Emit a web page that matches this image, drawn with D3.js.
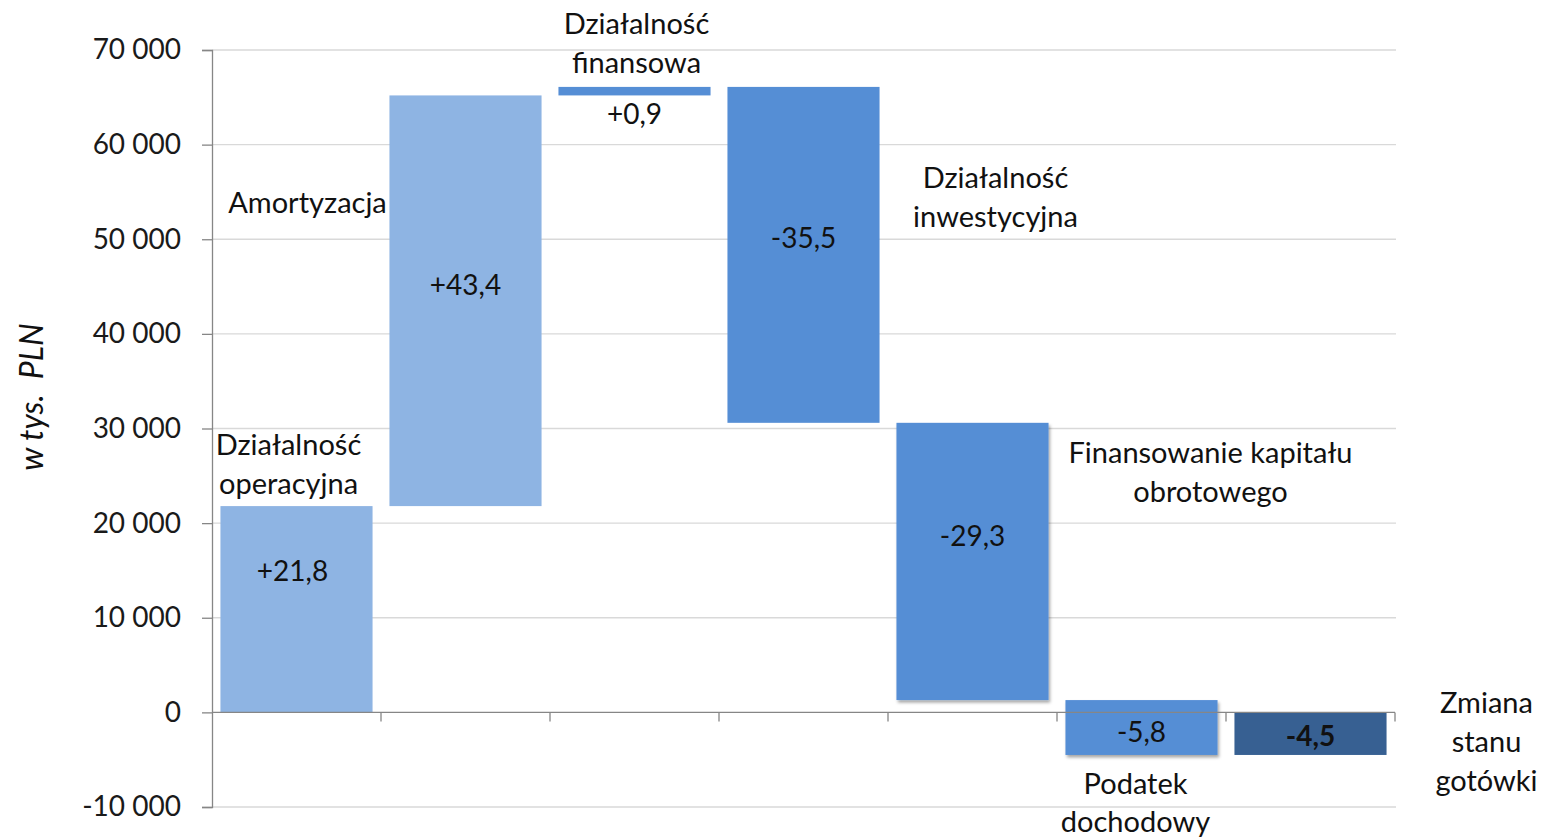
<!DOCTYPE html>
<html><head><meta charset="utf-8">
<script src="https://cdn.jsdelivr.net/npm/d3@7"></script>
<style>
html,body{margin:0;padding:0;background:#fff;}
svg{display:block;font-family:Lato, "Noto Sans", sans-serif;}
</style></head>
<body>
<svg id="chart" width="1544" height="839"></svg>
<script>
// ---- data ----
const categories = ["operacyjna","amortyzacja","finansowa","inwestycyjna","kapital","podatek","zmiana"];
const categoryLabels = [
  ["Działalność","operacyjna"],
  ["Amortyzacja"],
  ["Działalność","finansowa"],
  ["Działalność","inwestycyjna"],
  ["Finansowanie kapitału","obrotowego"],
  ["Podatek","dochodowy"],
  ["Zmiana","stanu","gotówki"]
];
const deltas = [21800, 43400, 900, -35500, -29300, -5800, null]; // null = total bar
const valueLabels = ["+21,8","+43,4","+0,9","-35,5","-29,3","-5,8","-4,5"];
const yTicks = [-10000, 0, 10000, 20000, 30000, 40000, 50000, 60000, 70000];
const yTitle = "w tys.\u00a0 PLN";

// ---- build waterfall segments ----
let running = 0;
const bars = categories.map((c, i) => {
  if (deltas[i] === null) {
    return {cat: c, i, start: 0, end: running, total: true};
  }
  const s = running; running += deltas[i];
  return {cat: c, i, start: s, end: running, total: false, delta: deltas[i]};
});

// colour per bar (style)
const barColors = ["#8EB4E3", "#8EB4E3", "#558ED5", "#558ED5", "#558ED5", "#558ED5", "#376092"];

// ---- layout ----
const pL = 212, pR = 1395, pT = 50, pB = 807;
const svg = d3.select("#chart");
const x = d3.scaleBand().domain(categories).range([pL, pR]).paddingInner(0.1).paddingOuter(0.05);
const y = d3.scaleLinear().domain([-10000, 70000]).range([pB, pT]);
const loc = d3.formatLocale({decimal: ",", thousands: "\u00a0", grouping: [3], currency: ["", ""], minus: "-"});
const fmt = loc.format(",d");

const defs = svg.append("defs");
const f = defs.append("filter").attr("id", "shadow").attr("x", "-10%").attr("y", "-10%").attr("width", "130%").attr("height", "130%");
f.append("feDropShadow").attr("dx", 1.5).attr("dy", 2.5).attr("stdDeviation", 1.8).attr("flood-color", "#000").attr("flood-opacity", 0.35);

// gridlines
svg.append("g").selectAll("line").data(yTicks.filter(t => t !== 0)).join("line")
  .attr("x1", pL).attr("x2", pR + 1).attr("y1", d => y(d)).attr("y2", d => y(d))
  .attr("stroke", "#d9d9d9").attr("stroke-width", 1.3);

// y axis
const yAxis = svg.append("g").attr("transform", `translate(${pL},0)`)
  .call(d3.axisLeft(y).tickValues(yTicks).tickFormat(fmt).tickSize(10).tickPadding(21));
yAxis.select(".domain").attr("stroke", "#868686").attr("stroke-width", 1.3);
yAxis.selectAll(".tick line").attr("stroke", "#868686").attr("stroke-width", 1.3);
yAxis.selectAll(".tick text").attr("font-size", 28).attr("fill", "#1a1a1a").attr("font-family", "Lato, sans-serif");

// bars
svg.append("g").selectAll("rect").data(bars).join("rect")
  .attr("x", d => x(d.cat))
  .attr("width", x.bandwidth())
  .attr("y", d => y(Math.max(d.start, d.end)))
  .attr("height", d => Math.abs(y(d.start) - y(d.end)))
  .attr("fill", d => barColors[d.i])
  .attr("filter", d => (d.i === 4 || d.i === 5) ? "url(#shadow)" : null);

// x axis (zero line) with boundary ticks
const xAxisG = svg.append("g");
xAxisG.append("line").attr("x1", pL).attr("x2", pR).attr("y1", y(0)).attr("y2", y(0))
  .attr("stroke", "#868686").attr("stroke-width", 1.3);
const boundaries = categories.map(c => x(c) + x.bandwidth() + x.step() * x.paddingInner() / 2);
boundaries[boundaries.length - 1] = pR;
xAxisG.selectAll("line.tk").data(boundaries).join("line").attr("class", "tk")
  .attr("x1", d => d).attr("x2", d => d).attr("y1", y(0)).attr("y2", y(0) + 9)
  .attr("stroke", "#868686").attr("stroke-width", 1.3);

// value labels (offset in px from bar middle, or below bar)
const valueOffsets = [-38, -16, null, -17, -25, 5, 3];
svg.append("g").selectAll("text").data(bars).join("text")
  .attr("x", d => x(d.cat) + x.bandwidth() / 2 - (d.i === 0 ? 4 : 0))
  .attr("y", d => {
    const mid = (y(d.start) + y(d.end)) / 2;
    if (valueOffsets[d.i] === null) return y(Math.min(d.start, d.end)) + 19;
    return mid + valueOffsets[d.i];
  })
  .attr("dy", "0.35em")
  .attr("text-anchor", "middle")
  .attr("font-size", 28)
  .attr("font-weight", d => d.total ? "bold" : "normal")
  .attr("fill", "#111")
  .text(d => valueLabels[d.i]);

// category labels: dx from band centre, first line centre y (px)
const labelPlace = [
  {dx: -8, y: 445}, {dx: -158, y: 203}, {dx: 2, y: 24}, {dx: 192, y: 178},
  {dx: 238, y: 453}, {dx: -6, y: 784}, {dx: 176, y: 703}
];
const lineH = 38.7;
const cl = svg.append("g").selectAll("text").data(bars).join("text")
  .attr("text-anchor", "middle").attr("font-size", 29).attr("fill", "#111")
  .attr("transform", d => `translate(${x(d.cat) + x.bandwidth() / 2 + labelPlace[d.i].dx},${labelPlace[d.i].y})`);
cl.selectAll("tspan").data(d => categoryLabels[d.i]).join("tspan")
  .attr("x", 0).attr("y", (d, j) => j * (d === "dochodowy" ? 37.5 : lineH)).attr("dy", "0.35em").text(d => d);

// y title
svg.append("text")
  .attr("transform", `translate(32,397) rotate(-90)`)
  .attr("text-anchor", "middle").attr("dy", "0.35em")
  .attr("font-size", 32).attr("font-style", "italic").attr("fill", "#111")
  .text(yTitle);
</script>
</body></html>
